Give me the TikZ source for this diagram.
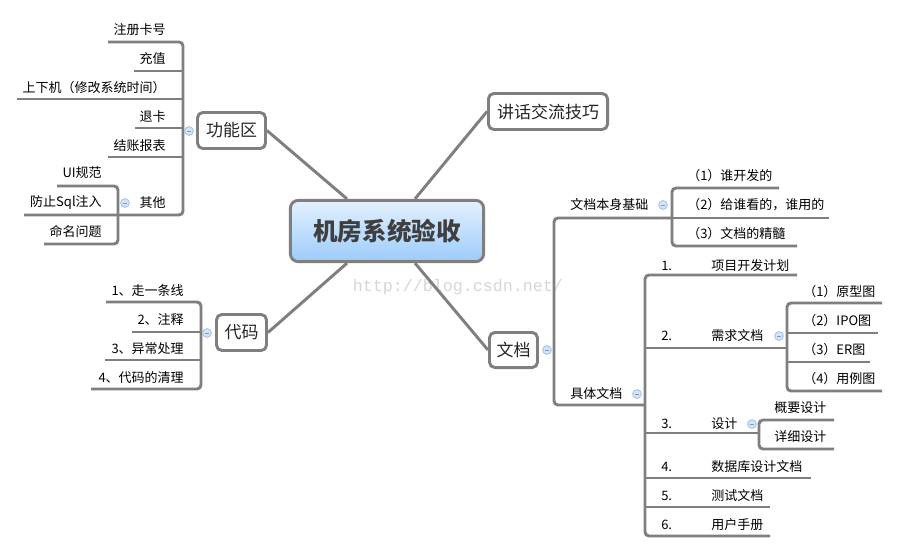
\documentclass[tikz,border=0pt]{standalone}
\usepackage{fontspec}
\setmainfont{Noto Sans CJK SC}
\newfontfamily\wmfont{Liberation Mono}
\usetikzlibrary{calc}
\definecolor{lg}{HTML}{7F7F7F}
\definecolor{ctop}{HTML}{E4F1FE}
\definecolor{cbot}{HTML}{9CCBFA}
\definecolor{ctxt}{HTML}{3F3F3F}
\definecolor{txt}{HTML}{262626}
\definecolor{dotfill}{HTML}{D3E3F8}
\definecolor{dotline}{HTML}{A3BFE8}
\definecolor{wm}{HTML}{D6D6D6}
\tikzset{
  br/.style={draw=lg, line width=2.2pt, rounded corners=3pt},
  topic/.style={draw=lg, line width=2.2pt, rounded corners=4pt, fill=white, inner sep=0pt,
    font=\fontsize{12.75pt}{14pt}\selectfont, text=txt},
  leaf/.style={inner sep=0pt, font=\fontsize{9.75pt}{11pt}\selectfont, text=black},
  leafl/.style={leaf, anchor=east},
  leafr/.style={leaf, anchor=west},
  dot/.style={circle, minimum size=6.6pt, inner sep=0pt, fill=dotfill, draw=dotline, line width=0.6pt,
    path picture={\draw[dotline!80!black, line width=0.6pt]
      ([xshift=-1.6pt]path picture bounding box.center) -- ([xshift=1.6pt]path picture bounding box.center);}}
}
\begin{document}
\begin{tikzpicture}[x=0.75pt,y=-0.75pt]
\useasboundingbox (0,0) rectangle (899,553);
\fill[white] (0,0) rectangle (899,553);

% watermark
\node[text=wm, font=\wmfont\fontsize{12.5pt}{14pt}\selectfont, inner sep=0pt] (wmk) at (458,287) {http://blog.csdn.net/};

% central topic
\node[draw=lg, line width=2.2pt, rounded corners=6pt, top color=ctop, bottom color=cbot,
  minimum width=145pt, minimum height=46pt, inner sep=0pt,
  font=\bfseries\fontsize{18.4pt}{20pt}\selectfont, text=ctxt] (c) at (387,231) {机房系统验收};

% main topics
\node[topic, minimum width=51pt, minimum height=27pt] (gn) at (231.5,130.5) {功能区};
\node[topic, minimum width=37.5pt, minimum height=27pt] (dm) at (241.5,332.5) {代码};
\node[topic, minimum width=89.3pt, minimum height=27pt] (jh) at (548,111.5) {讲话交流技巧};
\node[topic, minimum width=36pt, minimum height=26.3pt] (wd) at (513.5,350) {文档};

\draw[lg, line width=2.2pt] ($(c.north)+(28,0)$) -- (jh.west);
\draw[lg, line width=2.2pt] ($(c.north)+(-40,0)$) -- (gn.east);
\draw[lg, line width=2.2pt] ($(c.south)+(-40,0)$) -- (dm.east);
\draw[lg, line width=2.2pt] ($(c.south)+(28,0)$) -- (wd.west);

% ---- 功能区 branch
\draw[br] (108,42) -- (183,42) -- (183,215) -- (24,215);
\draw[br] (134,71) -- (183,71);
\draw[br] (17,99) -- (183,99);
\draw[br] (135,128) -- (183,128);
\draw[br] (108,157) -- (183,157);
\draw[br] (57,186) -- (118,186) -- (118,244) -- (44,244);
\node[leafl] (g1) at (166,30) {注册卡号};
\node[leafl] (g2) at (166,59) {充值};
\node[leafl] (g3) at (166,88) {上下机（修改系统时间）};
\node[leafl] (g4) at (166,117) {退卡};
\node[leafl] (g5) at (166,146) {结账报表};
\node[leafl] (g6) at (166,203) {其他};
\node[leafl] (o1) at (102,173) {UI规范};
\node[leafl] (o2) at (102,202) {防止Sql注入};
\node[leafl] (o3) at (102,231) {命名问题};
\node[dot] (dg) at (189,131) {};
\node[dot] (dq) at (125,203) {};

% ---- 代码 branch
\draw[br] (106,302) -- (201,302) -- (201,389) -- (91,389);
\draw[br] (132,332) -- (201,332);
\draw[br] (105,360) -- (201,360);
\node[leafl] (m1) at (184,291) {1、走一条线};
\node[leafl] (m2) at (184,320) {2、注释};
\node[leafl] (m3) at (184,349) {3、异常处理};
\node[leafl] (m4) at (184,378) {4、代码的清理};
\node[dot] (dd) at (207,333) {};

% ---- 文档 branch
\draw[br] (672,218) -- (554,218) -- (554,405) -- (645,405);
\node[leafr] (w1) at (570,205) {文档本身基础};
\node[leafr] (w2) at (570,394) {具体文档};
\node[dot] (dw) at (547,350) {};
\node[dot] (dw1) at (663,205) {};
\node[dot] (dw2) at (637,394) {};

\draw[br] (779,188) -- (672,188) -- (672,246) -- (797,246);
\draw[br] (672,218) -- (829,218);
\node[leafr] (b1) at (687,176) {（1）谁开发的};
\node[leafr] (b2) at (687,205) {（2）给谁看的，谁用的};
\node[leafr] (b3) at (687,234) {（3）文档的精髓};

\draw[br] (797,275) -- (645,275) -- (645,536) -- (770,536);
\draw[br] (645,348) -- (787,348);
\draw[br] (645,433) -- (759,433);
\draw[br] (645,478) -- (811,478);
\draw[br] (645,507) -- (770,507);
\node[leafr] (n1) at (661,266) {1.};
\node[leafr] (n2) at (661,336) {2.};
\node[leafr] (n3) at (661,424) {3.};
\node[leafr] (n4) at (661,467) {4.};
\node[leafr] (n5) at (661,496) {5.};
\node[leafr] (n6) at (661,525) {6.};
\node[leafr] (k1) at (711,266) {项目开发计划};
\node[leafr] (k2) at (711,336) {需求文档};
\node[leafr] (k3) at (711,424) {设计};
\node[leafr] (k4) at (711,467) {数据库设计文档};
\node[leafr] (k5) at (711,496) {测试文档};
\node[leafr] (k6) at (711,525) {用户手册};
\node[dot] (dk2) at (779,336) {};
\node[dot] (dk3) at (752,424) {};

\draw[br] (882,303) -- (787,303) -- (787,391) -- (882,391);
\draw[br] (787,333) -- (878,333);
\draw[br] (787,362) -- (870,362);
\node[leafr] (r1) at (803,292) {（1）原型图};
\node[leafr] (r2) at (803,321) {（2）IPO图};
\node[leafr] (r3) at (803,350) {（3）ER图};
\node[leafr] (r4) at (803,379) {（4）用例图};

\draw[br] (834,420) -- (759,420) -- (759,449) -- (834,449);
\node[leafr] (s1) at (774,408) {概要设计};
\node[leafr] (s2) at (774,437) {详细设计};
\end{tikzpicture}
\end{document}
